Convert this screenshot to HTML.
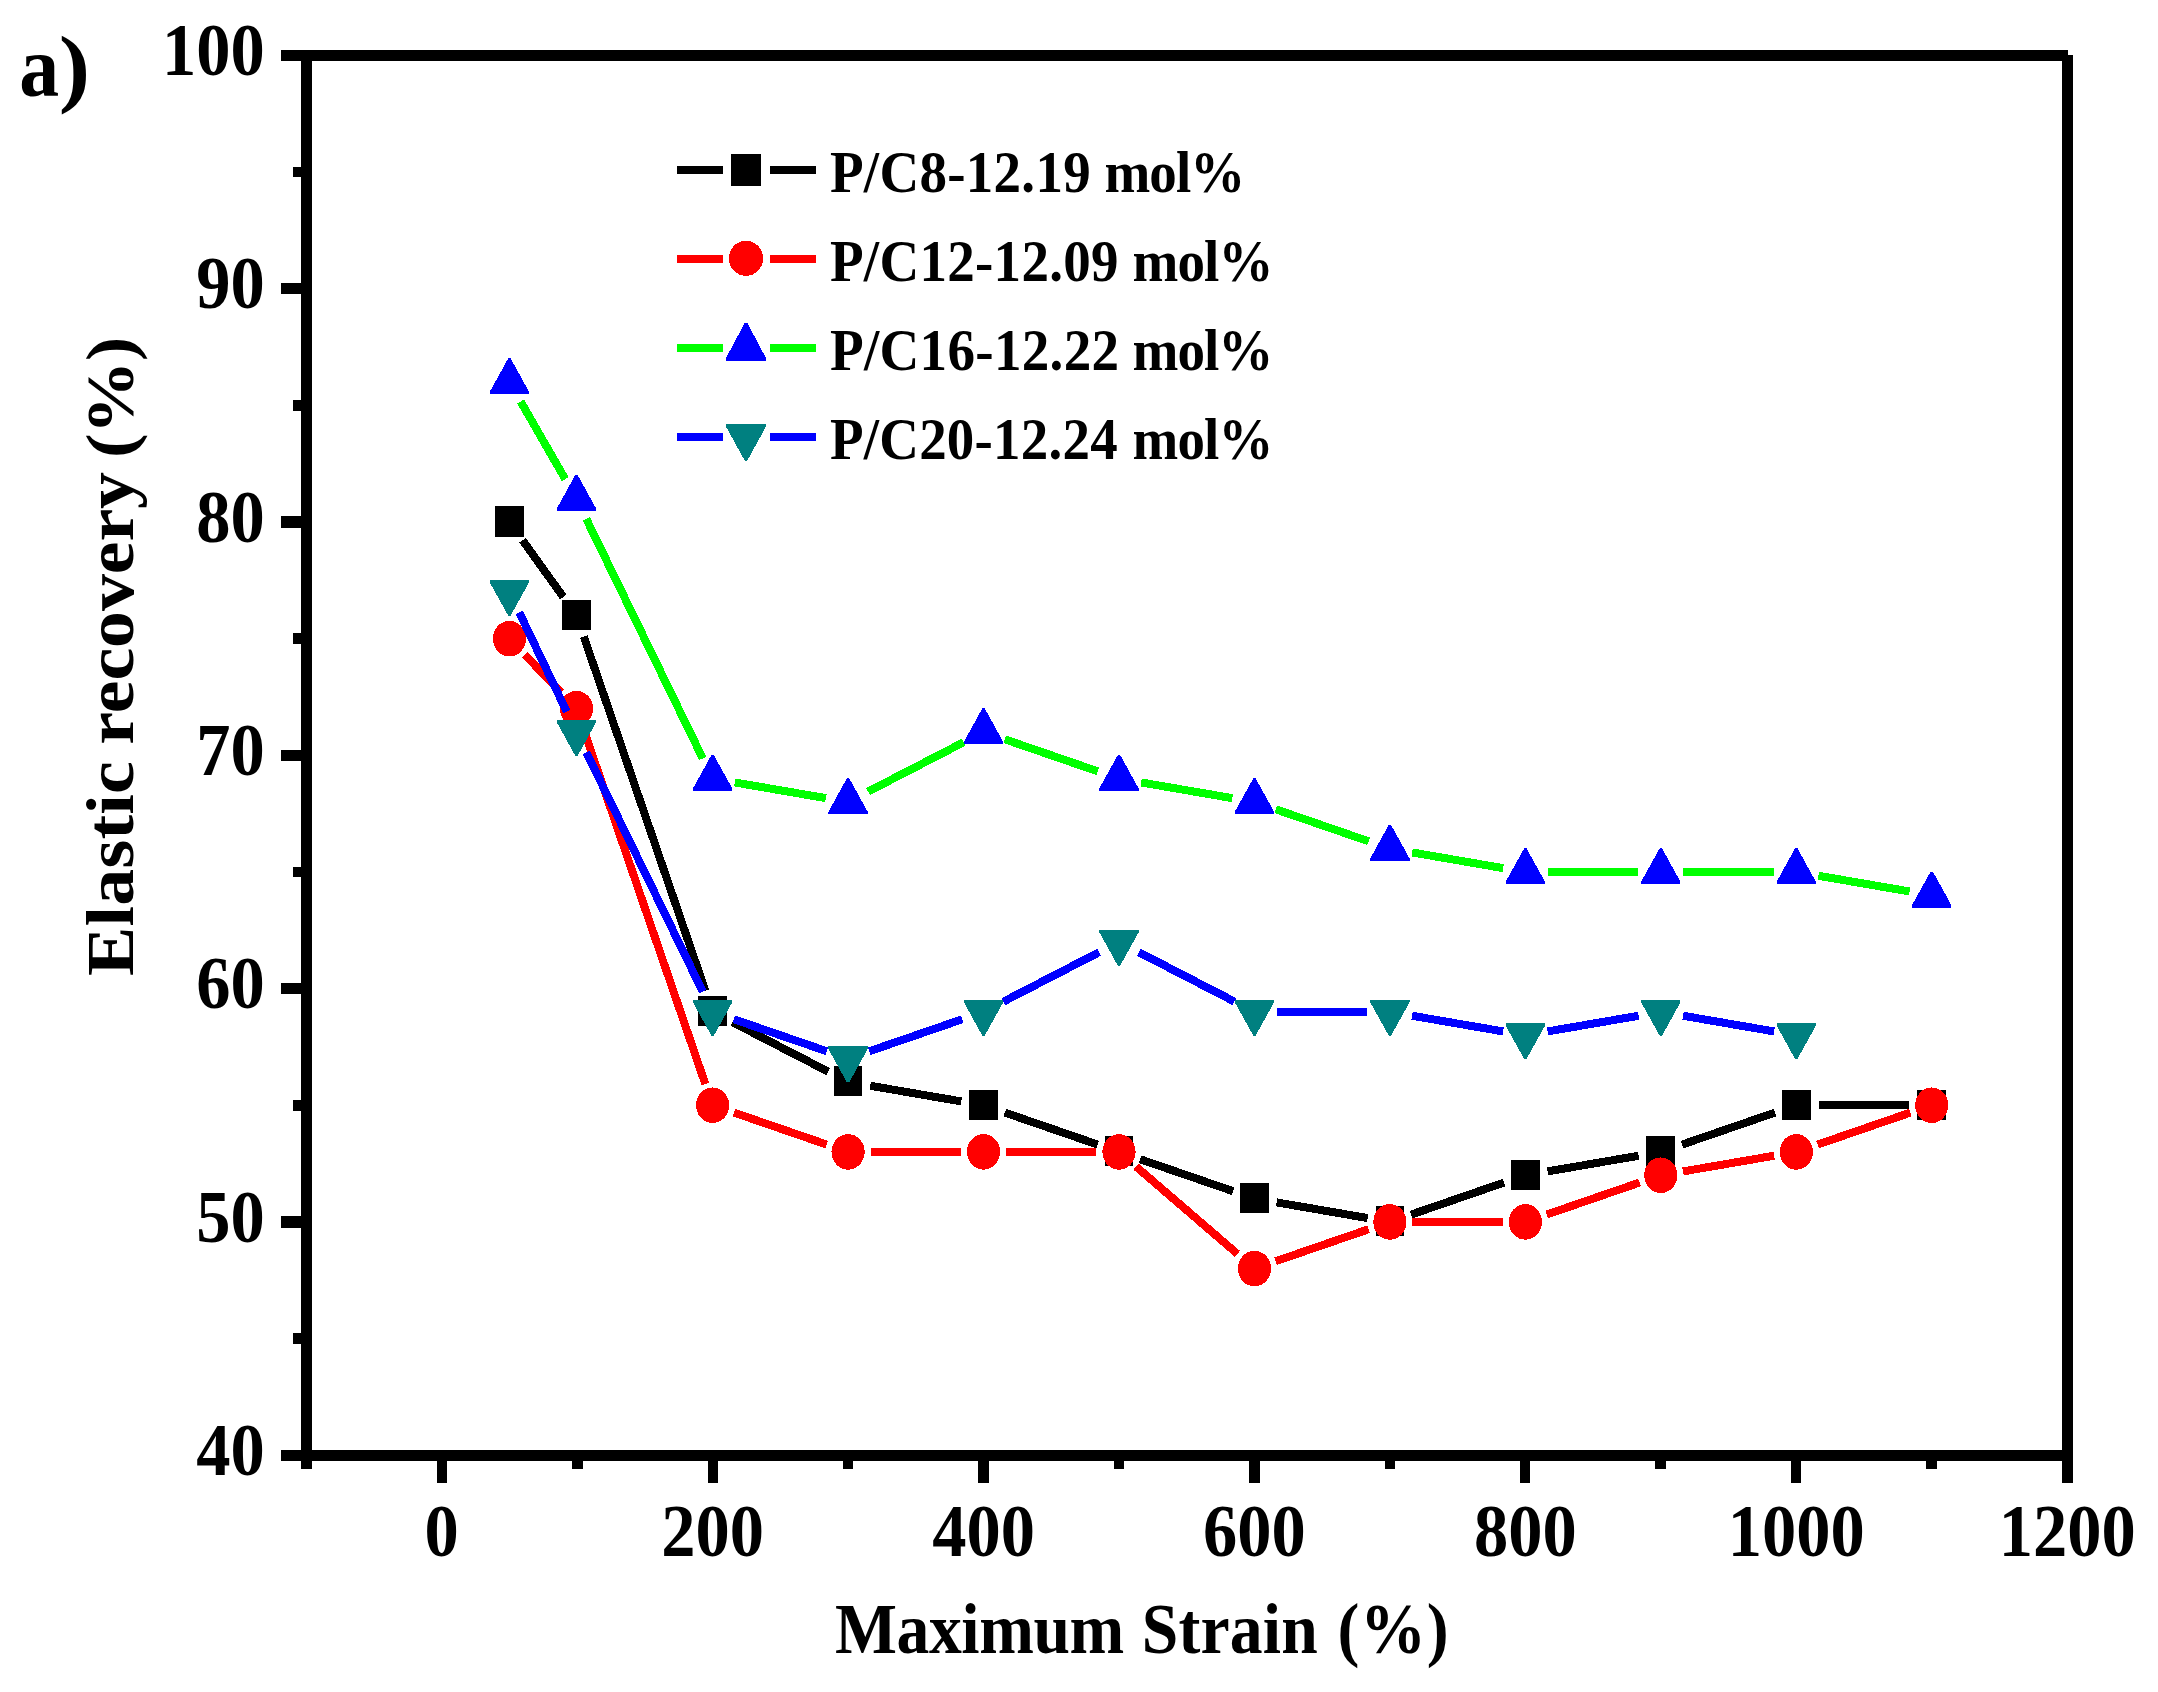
<!DOCTYPE html>
<html lang="en"><head><meta charset="utf-8"><title>Elastic recovery vs maximum strain</title>
<style>html,body{margin:0;padding:0;background:#fff}svg{display:block}text{font-family:"Liberation Serif","Times New Roman",serif;font-weight:bold;fill:#000}</style>
</head><body>
<svg width="2158" height="1692" viewBox="0 0 2158 1692">
<rect width="2158" height="1692" fill="#fff"/>
<g id="plot" shape-rendering="crispEdges">
<path d="M522.56 540.27L563.33 597.05M583.76 636.60L705.31 990.65M732.61 1022.26L828.08 1071.59M870.25 1085.74L961.36 1101.43M1004.81 1112.58L1097.72 1144.58M1140.26 1159.24L1233.17 1191.24M1276.62 1202.39L1367.73 1218.08M1411.18 1214.57L1504.09 1182.57M1547.54 1171.42L1638.65 1155.73M1682.10 1144.58L1775.01 1112.58M1818.78 1105.25L1909.24 1105.25" stroke="#000000" stroke-width="8" fill="none"/>
<rect x="495.03" y="506.30" width="28.8" height="30.2" fill="#000000"/>
<rect x="562.06" y="599.62" width="28.8" height="30.2" fill="#000000"/>
<rect x="698.22" y="996.23" width="28.8" height="30.2" fill="#000000"/>
<rect x="833.67" y="1066.22" width="28.8" height="30.2" fill="#000000"/>
<rect x="969.13" y="1089.55" width="28.8" height="30.2" fill="#000000"/>
<rect x="1104.59" y="1136.21" width="28.8" height="30.2" fill="#000000"/>
<rect x="1240.05" y="1182.87" width="28.8" height="30.2" fill="#000000"/>
<rect x="1375.51" y="1206.20" width="28.8" height="30.2" fill="#000000"/>
<rect x="1510.96" y="1159.54" width="28.8" height="30.2" fill="#000000"/>
<rect x="1646.42" y="1136.21" width="28.8" height="30.2" fill="#000000"/>
<rect x="1781.88" y="1089.55" width="28.8" height="30.2" fill="#000000"/>
<rect x="1917.34" y="1089.55" width="28.8" height="30.2" fill="#000000"/>
<path d="M524.99 654.90L560.90 692.39M583.76 729.92L705.31 1083.97M733.89 1112.58L826.80 1144.58M870.57 1151.91L961.03 1151.91M1006.03 1151.91L1096.49 1151.91M1136.04 1166.59L1237.40 1253.88M1275.72 1261.23L1368.63 1229.23M1412.41 1221.90L1502.86 1221.90M1546.64 1214.57L1639.55 1182.57M1683.00 1171.42L1774.11 1155.73M1817.55 1144.58L1910.46 1112.58" stroke="#ff0000" stroke-width="8" fill="none"/>
<ellipse cx="509.43" cy="638.65" rx="16.6" ry="17.8" fill="#ff0000"/>
<ellipse cx="576.46" cy="708.64" rx="16.6" ry="17.8" fill="#ff0000"/>
<ellipse cx="712.62" cy="1105.25" rx="16.6" ry="17.8" fill="#ff0000"/>
<ellipse cx="848.07" cy="1151.91" rx="16.6" ry="17.8" fill="#ff0000"/>
<ellipse cx="983.53" cy="1151.91" rx="16.6" ry="17.8" fill="#ff0000"/>
<ellipse cx="1118.99" cy="1151.91" rx="16.6" ry="17.8" fill="#ff0000"/>
<ellipse cx="1254.45" cy="1268.56" rx="16.6" ry="17.8" fill="#ff0000"/>
<ellipse cx="1389.91" cy="1221.90" rx="16.6" ry="17.8" fill="#ff0000"/>
<ellipse cx="1525.36" cy="1221.90" rx="16.6" ry="17.8" fill="#ff0000"/>
<ellipse cx="1660.82" cy="1175.24" rx="16.6" ry="17.8" fill="#ff0000"/>
<ellipse cx="1796.28" cy="1151.91" rx="16.6" ry="17.8" fill="#ff0000"/>
<ellipse cx="1931.74" cy="1105.25" rx="16.6" ry="17.8" fill="#ff0000"/>
<path d="M520.64 401.53L565.25 479.16M586.30 518.90L702.78 758.40M734.79 782.45L825.90 798.14M868.06 791.63L963.54 742.30M1004.81 739.30L1097.72 771.30M1141.16 782.45L1232.27 798.14M1275.72 809.29L1368.63 841.29M1412.08 852.44L1503.19 868.13M1547.86 871.95L1638.32 871.95M1683.32 871.95L1773.78 871.95M1818.45 875.77L1909.56 891.46" stroke="#00ff00" stroke-width="8" fill="none"/>
<polygon points="489.78,394.32 489.78,391.82 508.23,358.42 510.63,358.42 529.08,391.82 529.08,394.32" fill="#0000ff"/>
<polygon points="556.81,510.97 556.81,508.47 575.26,475.07 577.66,475.07 596.11,508.47 596.11,510.97" fill="#0000ff"/>
<polygon points="692.97,790.93 692.97,788.43 711.42,755.03 713.82,755.03 732.27,788.43 732.27,790.93" fill="#0000ff"/>
<polygon points="828.42,814.26 828.42,811.76 846.87,778.36 849.27,778.36 867.72,811.76 867.72,814.26" fill="#0000ff"/>
<polygon points="963.88,744.27 963.88,741.77 982.33,708.37 984.73,708.37 1003.18,741.77 1003.18,744.27" fill="#0000ff"/>
<polygon points="1099.34,790.93 1099.34,788.43 1117.79,755.03 1120.19,755.03 1138.64,788.43 1138.64,790.93" fill="#0000ff"/>
<polygon points="1234.80,814.26 1234.80,811.76 1253.25,778.36 1255.65,778.36 1274.10,811.76 1274.10,814.26" fill="#0000ff"/>
<polygon points="1370.26,860.92 1370.26,858.42 1388.71,825.02 1391.11,825.02 1409.56,858.42 1409.56,860.92" fill="#0000ff"/>
<polygon points="1505.71,884.25 1505.71,881.75 1524.16,848.35 1526.56,848.35 1545.01,881.75 1545.01,884.25" fill="#0000ff"/>
<polygon points="1641.17,884.25 1641.17,881.75 1659.62,848.35 1662.02,848.35 1680.47,881.75 1680.47,884.25" fill="#0000ff"/>
<polygon points="1776.63,884.25 1776.63,881.75 1795.08,848.35 1797.48,848.35 1815.93,881.75 1815.93,884.25" fill="#0000ff"/>
<polygon points="1912.09,907.58 1912.09,905.08 1930.54,871.68 1932.94,871.68 1951.39,905.08 1951.39,907.58" fill="#0000ff"/>
<path d="M519.15 612.28L566.74 711.68M586.30 752.20L702.78 991.70M733.89 1019.26L826.80 1051.26M869.35 1051.26L962.26 1019.26M1003.52 1001.60L1099.00 952.27M1138.98 952.27L1234.46 1001.60M1276.95 1011.93L1367.41 1011.93M1412.08 1015.75L1503.19 1031.44M1547.54 1031.44L1638.65 1015.75M1683.00 1015.75L1774.11 1031.44" stroke="#0000ff" stroke-width="8" fill="none"/>
<polygon points="489.78,579.89 489.78,582.39 508.23,615.69 510.63,615.69 529.08,582.39 529.08,579.89" fill="#008080"/>
<polygon points="556.81,719.87 556.81,722.37 575.26,755.67 577.66,755.67 596.11,722.37 596.11,719.87" fill="#008080"/>
<polygon points="692.97,999.83 692.97,1002.33 711.42,1035.63 713.82,1035.63 732.27,1002.33 732.27,999.83" fill="#008080"/>
<polygon points="828.42,1046.49 828.42,1048.99 846.87,1082.29 849.27,1082.29 867.72,1048.99 867.72,1046.49" fill="#008080"/>
<polygon points="963.88,999.83 963.88,1002.33 982.33,1035.63 984.73,1035.63 1003.18,1002.33 1003.18,999.83" fill="#008080"/>
<polygon points="1099.34,929.84 1099.34,932.34 1117.79,965.64 1120.19,965.64 1138.64,932.34 1138.64,929.84" fill="#008080"/>
<polygon points="1234.80,999.83 1234.80,1002.33 1253.25,1035.63 1255.65,1035.63 1274.10,1002.33 1274.10,999.83" fill="#008080"/>
<polygon points="1370.26,999.83 1370.26,1002.33 1388.71,1035.63 1391.11,1035.63 1409.56,1002.33 1409.56,999.83" fill="#008080"/>
<polygon points="1505.71,1023.16 1505.71,1025.66 1524.16,1058.96 1526.56,1058.96 1545.01,1025.66 1545.01,1023.16" fill="#008080"/>
<polygon points="1641.17,999.83 1641.17,1002.33 1659.62,1035.63 1662.02,1035.63 1680.47,1002.33 1680.47,999.83" fill="#008080"/>
<polygon points="1776.63,1023.16 1776.63,1025.66 1795.08,1058.96 1797.48,1058.96 1815.93,1025.66 1815.93,1023.16" fill="#008080"/>
</g>
<g id="axes" fill="#000" shape-rendering="crispEdges">
<rect x="281" y="50" width="1786.6" height="11"/>
<rect x="281" y="1450" width="1786.6" height="10.7"/>
<rect x="301" y="50" width="11" height="1418.7"/>
<rect x="2062" y="55" width="11" height="1427.8"/>
<rect x="293" y="1333.15" width="9" height="10.8"/>
<rect x="281" y="1216.30" width="21" height="11.2"/>
<rect x="293" y="1099.85" width="9" height="10.8"/>
<rect x="281" y="983.00" width="21" height="11.2"/>
<rect x="293" y="866.55" width="9" height="10.8"/>
<rect x="281" y="749.70" width="21" height="11.2"/>
<rect x="293" y="633.25" width="9" height="10.8"/>
<rect x="281" y="516.40" width="21" height="11.2"/>
<rect x="293" y="399.95" width="9" height="10.8"/>
<rect x="281" y="283.10" width="21" height="11.2"/>
<rect x="293" y="166.65" width="9" height="10.8"/>
<rect x="436.60" y="1459" width="10.2" height="23.8"/>
<rect x="571.76" y="1459" width="10.8" height="9.7"/>
<rect x="707.52" y="1459" width="10.2" height="23.8"/>
<rect x="842.67" y="1459" width="10.8" height="9.7"/>
<rect x="978.43" y="1459" width="10.2" height="23.8"/>
<rect x="1113.59" y="1459" width="10.8" height="9.7"/>
<rect x="1249.35" y="1459" width="10.2" height="23.8"/>
<rect x="1384.51" y="1459" width="10.8" height="9.7"/>
<rect x="1520.26" y="1459" width="10.2" height="23.8"/>
<rect x="1655.42" y="1459" width="10.8" height="9.7"/>
<rect x="1791.18" y="1459" width="10.2" height="23.8"/>
<rect x="1926.34" y="1459" width="10.8" height="9.7"/>
</g>
<g id="ticklabels">
<text transform="translate(264.7 1474.86) scale(0.3424 0.3704)" font-size="200" text-anchor="end">40</text>
<text transform="translate(264.7 1241.56) scale(0.3424 0.3704)" font-size="200" text-anchor="end">50</text>
<text transform="translate(264.7 1008.26) scale(0.3424 0.3704)" font-size="200" text-anchor="end">60</text>
<text transform="translate(264.7 774.96) scale(0.3424 0.3704)" font-size="200" text-anchor="end">70</text>
<text transform="translate(264.7 541.66) scale(0.3424 0.3704)" font-size="200" text-anchor="end">80</text>
<text transform="translate(264.7 308.36) scale(0.3424 0.3704)" font-size="200" text-anchor="end">90</text>
<text transform="translate(264.7 75.06) scale(0.3424 0.3704)" font-size="200" text-anchor="end">100</text>
<text transform="translate(441.70 1555.96) scale(0.3424 0.3704)" font-size="200" text-anchor="middle">0</text>
<text transform="translate(712.62 1555.96) scale(0.3424 0.3704)" font-size="200" text-anchor="middle">200</text>
<text transform="translate(983.53 1555.96) scale(0.3424 0.3704)" font-size="200" text-anchor="middle">400</text>
<text transform="translate(1254.45 1555.96) scale(0.3424 0.3704)" font-size="200" text-anchor="middle">600</text>
<text transform="translate(1525.36 1555.96) scale(0.3424 0.3704)" font-size="200" text-anchor="middle">800</text>
<text transform="translate(1796.28 1555.96) scale(0.3424 0.3704)" font-size="200" text-anchor="middle">1000</text>
<text transform="translate(2067.20 1555.96) scale(0.3424 0.3704)" font-size="200" text-anchor="middle">1200</text>
</g>
<text transform="translate(835.02 1653.20) scale(0.3283 0.3600)" font-size="200" xml:space="preserve"><tspan x="0.0" letter-spacing="-1.28">Maximum </tspan><tspan x="934.2" letter-spacing="0.51">Strain </tspan><tspan x="1530.9" letter-spacing="2.58">(%)</tspan></text>
<text transform="translate(133.00 976.11) rotate(-90) scale(0.3688 0.3435)" font-size="200" xml:space="preserve"><tspan x="0.0" letter-spacing="0.85">Elastic </tspan><tspan x="627.6" letter-spacing="-0.12">recovery </tspan><tspan x="1404.6" letter-spacing="-2.13">(%)</tspan></text>
<text y="96.29" font-size="87.67"><tspan x="19.31" textLength="39.89" lengthAdjust="spacingAndGlyphs">a</tspan><tspan x="58.87" textLength="31.38" lengthAdjust="spacingAndGlyphs">)</tspan></text>
<g id="legend" shape-rendering="crispEdges">
<path d="M676.9 169.9H723M770 169.9H816" stroke="#000000" stroke-width="8" fill="none"/>
<rect x="731.00" y="153.90" width="30" height="32" fill="#000000"/>
<text transform="translate(829.98 191.80) scale(0.2749 0.2970)" font-size="200" xml:space="preserve"><tspan x="0.0" letter-spacing="1.09">P/C8-12.19 </tspan><tspan x="998.3" letter-spacing="-3.28">mol%</tspan></text>
<path d="M676.9 258.8H723M770 258.8H816" stroke="#ff0000" stroke-width="8" fill="none"/>
<ellipse cx="746.00" cy="258.30" rx="17.1" ry="17.6" fill="#ff0000"/>
<text transform="translate(829.97 280.70) scale(0.2752 0.2970)" font-size="200" xml:space="preserve"><tspan x="0.0" letter-spacing="1.00">P/C12-12.09 </tspan><tspan x="1099.5" letter-spacing="-3.32">mol%</tspan></text>
<path d="M676.9 347.9H723M770 347.9H816" stroke="#00ff00" stroke-width="8" fill="none"/>
<polygon points="725.90,360.80 725.90,358.30 744.80,322.70 747.20,322.70 766.10,358.30 766.10,360.80" fill="#0000ff"/>
<text transform="translate(829.97 369.80) scale(0.2755 0.2970)" font-size="200" xml:space="preserve"><tspan x="0.0" letter-spacing="1.06">P/C16-12.22 </tspan><tspan x="1098.0" letter-spacing="-3.53">mol%</tspan></text>
<path d="M676.9 436.8H723M770 436.8H816" stroke="#0000ff" stroke-width="8" fill="none"/>
<polygon points="725.90,423.90 725.90,426.40 744.80,460.80 747.20,460.80 766.10,426.40 766.10,423.90" fill="#008080"/>
<text transform="translate(829.98 458.70) scale(0.2746 0.2970)" font-size="200" xml:space="preserve"><tspan x="0.0" letter-spacing="0.90">P/C20-12.24 </tspan><tspan x="1101.6" letter-spacing="-3.00">mol%</tspan></text>
</g>
</svg>
</body></html>
